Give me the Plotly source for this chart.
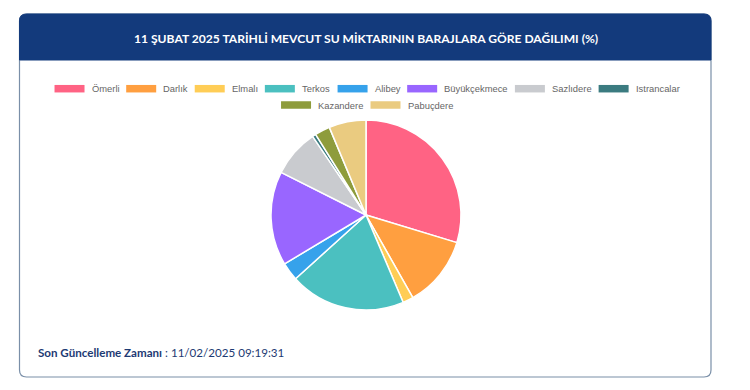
import plotly.graph_objects as go

# ---- data ----
dams = ["Ömerli", "Darlık", "Elmalı", "Terkos", "Alibey", "Büyükçekmece",
        "Sazlıdere", "Istrancalar", "Kazandere", "Pabuçdere"]
shares = [29.7, 12.1, 1.8, 19.7, 3.1, 16.0, 8.1, 0.6, 2.6, 6.3]
colors = ["#FF6384", "#FF9F40", "#FFCD56", "#4BC0C0", "#36A2EB", "#9966FF",
          "#C9CBCF", "#3B7B80", "#8E9C3C", "#EACB80"]
title_text = "11 ŞUBAT 2025 TARİHLİ MEVCUT SU MİKTARININ BARAJLARA GÖRE DAĞILIMI (%)"
update_label = "Son Güncelleme Zamanı"
update_value = "11/02/2025 09:19:31"

# page body has an 8px default margin; work in window pixels and shift
OFF = 8
W, H = 734, 374
NAVY = "#133A7C"

def X(v):
    return v - OFF

def Y(v):
    return v - OFF

fig = go.Figure()

# pie
cx, cy, r = 366, 215, 95
pcx, pcy = X(cx), Y(cy)
fig.add_trace(go.Pie(
    labels=dams, values=shares, sort=False, direction="clockwise", rotation=0,
    marker=dict(colors=colors, line=dict(color="white", width=1.5)),
    textinfo="none", hoverinfo="label+value", showlegend=False,
    domain=dict(x=[(pcx - r) / W, (pcx + r) / W], y=[(H - pcy - r) / H, (H - pcy + r) / H]),
))

shapes = []
# card
L, T, R, B, rad = X(19.5), Y(14), X(711), Y(377), 7
card = (f"M {L+rad},{T} L {R-rad},{T} Q {R},{T} {R},{T+rad} L {R},{B-rad} Q {R},{B} {R-rad},{B} "
        f"L {L+rad},{B} Q {L},{B} {L},{B-rad} L {L},{T+rad} Q {L},{T} {L+rad},{T} Z")
shapes.append(dict(type="path", path=card, xref="x", yref="y",
                   line=dict(color="#7A8FA8", width=1.2), fillcolor="white", layer="below"))
HB = Y(60)
header = (f"M {L+rad},{T} L {R-rad},{T} Q {R},{T} {R},{T+rad} L {R},{HB} L {L},{HB} "
          f"L {L},{T+rad} Q {L},{T} {L+rad},{T} Z")
shapes.append(dict(type="path", path=header, xref="x", yref="y",
                   line=dict(color=NAVY, width=1), fillcolor=NAVY, layer="below"))

annotations = [
    dict(x=X(366), y=Y(38), xref="x", yref="y", text=f"<b>{title_text}</b>", showarrow=False,
         font=dict(family="Lato", size=12.1, color="white"), xanchor="center", yanchor="middle"),
    dict(x=X(36), y=Y(352), xref="x", yref="y",
         text=f"<b>{update_label}</b> : {update_value}", showarrow=False,
         font=dict(family="Lato", size=11.6, color="#1D3A73"), xanchor="left", yanchor="middle"),
]

# ---- legend (chart.js style) ----
aw = {' ': 278, 'a': 556, 'b': 556, 'c': 500, 'd': 556, 'e': 556, 'i': 222, 'k': 500, 'l': 222,
      'm': 833, 'n': 556, 'o': 556, 'r': 333, 's': 500, 't': 278, 'u': 556, 'y': 500, 'z': 500,
      'ç': 500, 'ü': 556, 'ı': 278, 'A': 667, 'B': 667, 'D': 722, 'E': 667, 'I': 278, 'K': 667,
      'P': 667, 'S': 667, 'T': 611, 'Ö': 778}
fs = 9.4
def tw(s):
    return sum(aw.get(ch, 556) for ch in s) * fs / 1000.0

box_w, box_h, box_gap, item_gap = 30, 7.5, 5, 9
max_w = 680
rows, cur, cur_w = [], [], 0
for i, name in enumerate(dams):
    w = box_w + box_gap + tw(name)
    add = w if not cur else w + item_gap
    if cur and cur_w + add > max_w:
        rows.append((cur, cur_w))
        cur, cur_w = [], 0
        add = w
    cur.append((i, w))
    cur_w += add
rows.append((cur, cur_w))

row_y = [88.7, 105]
for ri, (items, rw) in enumerate(rows):
    x = X(cx) - rw / 2
    y = Y(row_y[ri])
    for i, w in items:
        shapes.append(dict(type="rect", xref="x", yref="y", x0=x, x1=x + box_w,
                           y0=y - box_h / 2, y1=y + box_h / 2,
                           fillcolor=colors[i], line=dict(width=0)))
        annotations.append(dict(x=x + box_w + box_gap, y=y, xref="x", yref="y", text=dams[i],
                                showarrow=False, xanchor="left", yanchor="middle",
                                font=dict(family="Liberation Sans, Arial", size=fs, color="#666666")))
        x += w + item_gap

fig.update_layout(
    width=W, height=H, margin=dict(l=0, r=0, t=0, b=0),
    paper_bgcolor="white", plot_bgcolor="white",
    xaxis=dict(range=[0, W], visible=False, fixedrange=True),
    yaxis=dict(range=[H, 0], visible=False, fixedrange=True),
    shapes=shapes, annotations=annotations, showlegend=False,
)

fig.write_html("out.html")
